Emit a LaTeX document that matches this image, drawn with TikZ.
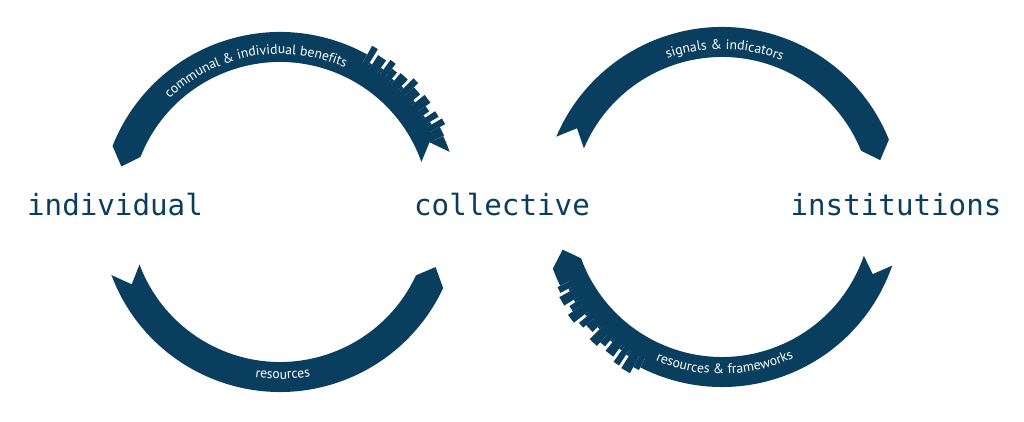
\documentclass[tikz,border=0pt]{standalone}
\usepackage{fontspec}
\usetikzlibrary{decorations.text}
\newfontfamily\wordfont{DejaVu Sans Mono}
\newfontfamily\ribbonfont{PT Sans}
\definecolor{bandblue}{HTML}{0A3E5E}
\tikzset{
  band/.style={fill=bandblue},
  word/.style={font=\wordfont\fontsize{8.3}{10}\selectfont, text=bandblue, inner sep=0pt, anchor=base},
  ribbontext/.style={decorate, decoration={text along path, text align=center,
    text={|\ribbonfont\fontsize{3.9}{4}\selectfont\color{white}|#1}}}
}
% ribbon arc from angle #1 to #2, both ends bent by #3 degrees
\newcommand{\ribbon}[3]{%
  \fill[band] (#1:180) arc[start angle=#1, end angle=#2, radius=180]
    -- ({#2+#3}:165) -- (#2:150) arc[start angle=#2, end angle=#1, radius=150]
    -- ({#1+#3}:165) -- cycle;}
% skyline on the outer edge between angles #1 and #2, blocks in #3
\newcommand{\skyline}[3]{%
  \fill[white] (#1:170) -- (#1:198) arc[start angle=#1, end angle=#2, radius=198]
    -- (#2:170) arc[start angle=#2, end angle=#1, radius=170] -- cycle;
  \foreach \a/\b/\h in {#3}
    \fill[band] (\a:168) -- (\a:{180+\h}) -- (\b:{180+\h}) -- (\b:168) -- cycle;}

\begin{document}
\begin{tikzpicture}[x=0.01cm, y=0.01cm]
\useasboundingbox (0,0) rectangle (1024,422);

% left loop
\begin{scope}[shift={(280,210)}]
\ribbon{19.5}{158.5}{5.5}
\ribbon{200.5}{335}{5.5}
\skyline{25}{61}{61/59/10, 59/58/-6, 58/55/5, 55/54/-4, 54/52/8, 52/50/2,
  50/49/-6, 49/46/4, 46/45/-5, 45/43/9, 43/40/3, 40/39/-6, 39/36/6,
  36/34/0, 34/33/-7, 33/31/5, 31/30/-5, 30/28/7, 28/25/1}
\path[ribbontext={communal {\&} individual benefits}] (150:158) arc[start angle=150, end angle=50, radius=158];
\path[ribbontext={resources}] (221:167) arc[start angle=221, end angle=321, radius=167];
\end{scope}

% right loop
\begin{scope}[shift={(722,215)}]
\ribbon{22}{157}{-5.5}
\ribbon{200}{341}{-5}
\skyline{206}{243}{206/208/3, 208/209/-6, 209/212/6, 212/213/-5, 213/215/2,
  215/218/8, 218/219/-6, 219/221/4, 221/224/0, 224/225/-7, 225/228/7,
  228/230/2, 230/231/-6, 231/234/5, 234/235/-5, 235/237/9, 237/238/-4,
  238/241/10, 241/243/3}
\path[ribbontext={signals {\&} indicators}] (139:158) arc[start angle=139, end angle=39, radius=158];
\path[ribbontext={resources {\&} frameworks}] (221:167) arc[start angle=221, end angle=321, radius=167];
\end{scope}

\node[word] (indiv) at (115,206) {individual};
\node[word] (coll) at (502,206) {collective};
\node[word] (inst) at (896,206) {institutions};
\end{tikzpicture}
\end{document}
